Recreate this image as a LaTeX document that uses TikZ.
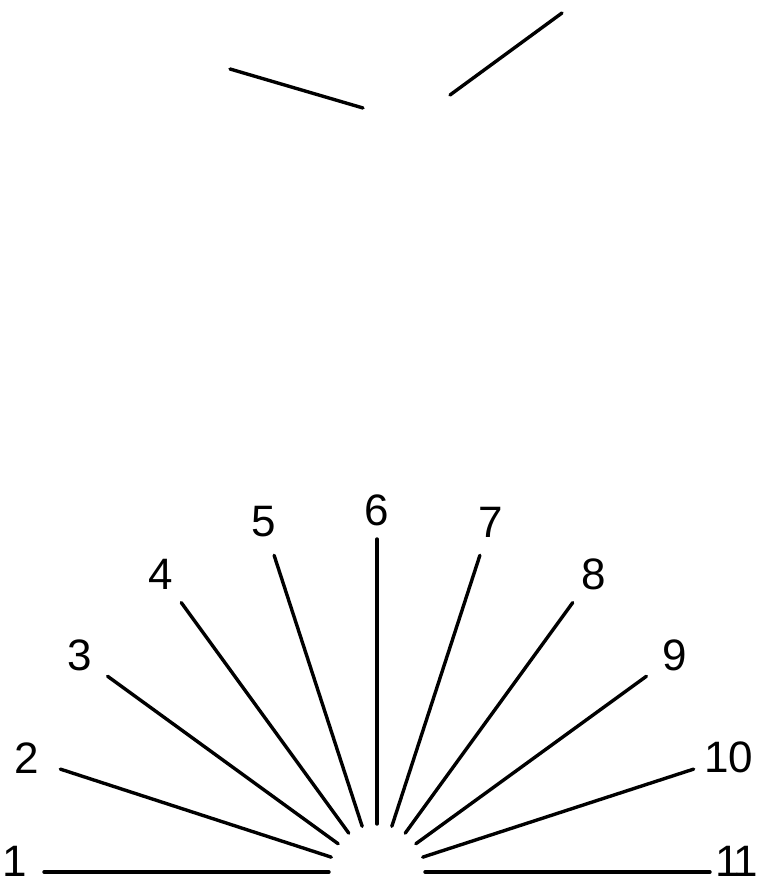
\documentclass[tikz,border=0pt]{standalone}
\usepackage{fontspec}
\setmainfont{Liberation Sans}
\usetikzlibrary{calc}

\begin{document}
\begin{tikzpicture}[x=0.5pt, y=0.5pt,
    ray/.style={line width=1.7pt, line cap=round},
    num/.style={font=\fontsize{22}{26}\selectfont, inner sep=0pt}]
    \useasboundingbox (0,0) rectangle (759,885);

    % Strokes at the top
    \coordinate (leftstart) at (230,816);
    \coordinate (leftend) at (363,777);
    \coordinate (rightstart) at (450,790);
    \coordinate (rightend) at (562,872);
    \draw [ray] (leftstart) -- (leftend);
    \draw [ray] (rightstart) -- (rightend);

    % Fan of rays
    \coordinate (hub) at (377,13);
    \foreach \i/\r/\lift/\txt in {1/362/11/1, 2/368/0/2, 3/368/0/3, 4/368/0/4,
                                  5/368/0/5, 6/362/0/6, 7/368/0/7, 8/368/0/8,
                                  9/368/0/9, 10/370/0/10, 11/360/11/{1\kern-.15em1}} {
        \pgfmathsetmacro{\ang}{198-18*\i}
        \coordinate (in\i) at ($(hub)+(\ang:48)$);
        \coordinate (out\i) at ($(hub)+(\ang:333)$);
        \node [num] (lab\i) at ($(hub)+(\ang:\r)+(0,\lift)$) {\txt};
        \draw [ray] (in\i) -- (out\i);
    }

\end{tikzpicture}
\end{document}
